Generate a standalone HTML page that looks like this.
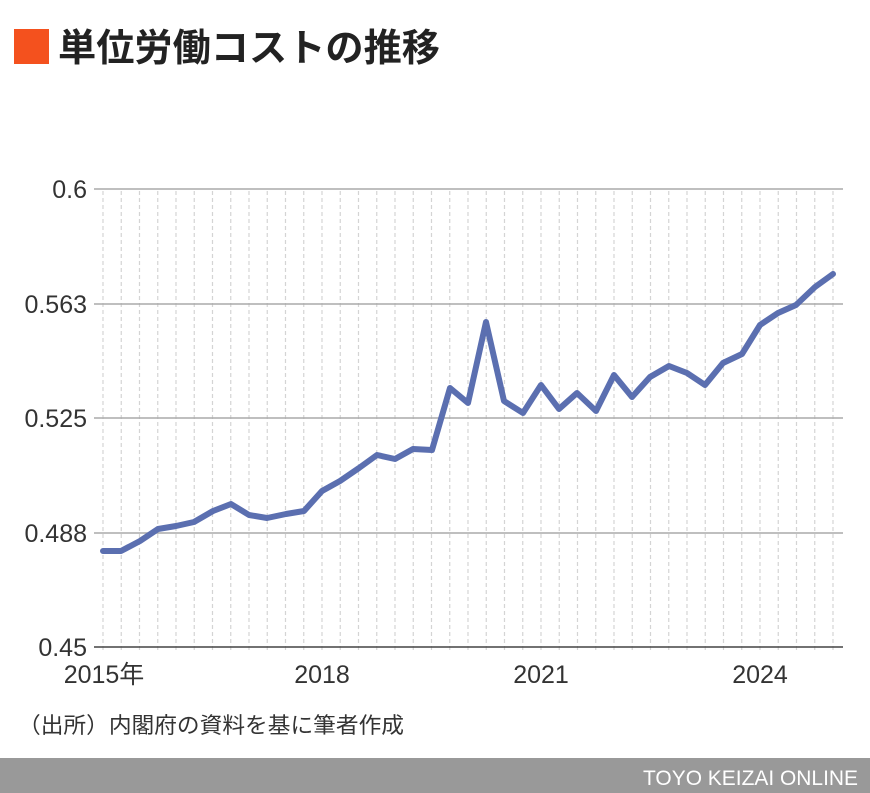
<!DOCTYPE html>
<html><head><meta charset="utf-8"><style>
body{margin:0;width:870px;height:793px;background:#fff;overflow:hidden;font-family:"Liberation Sans","Noto Sans CJK JP",sans-serif}
</style></head><body>
<svg width="870" height="793" xmlns="http://www.w3.org/2000/svg" style="position:absolute;left:0;top:0">
<rect x="14" y="29" width="35" height="35" fill="#f4511e"/>
<text x="58" y="61" font-size="38" font-weight="bold" fill="#222" font-family="'Noto Sans CJK JP',sans-serif" textLength="382" lengthAdjust="spacingAndGlyphs">単位労働コストの推移</text>
<g id="v" stroke="#d4d4d4" stroke-dasharray="4,3" stroke-width="1.2"></g>
<g stroke="#aaa" stroke-width="1.5">
<line x1="94" x2="843" y1="189" y2="189"/>
<line x1="94" x2="843" y1="304" y2="304"/>
<line x1="94" x2="843" y1="418" y2="418"/>
<line x1="94" x2="843" y1="533" y2="533"/>
</g>
<line x1="94" x2="843" y1="647" y2="647" stroke="#444" stroke-width="1.5"/>
<g font-size="25" fill="#333" text-anchor="end">
<text x="87" y="198">0.6</text>
<text x="87" y="313">0.563</text>
<text x="87" y="427">0.525</text>
<text x="87" y="542">0.488</text>
<text x="87" y="656">0.45</text>
</g>
<g font-size="25" fill="#333" text-anchor="middle">
<text x="104" y="683">2015年</text>
<text x="322" y="683">2018</text>
<text x="541" y="683">2021</text>
<text x="760" y="683">2024</text>
</g>
<polyline fill="none" stroke="#5b6fb0" stroke-width="6" stroke-linejoin="round" stroke-linecap="round" points="103,551 121,551 140,541 158,529 176,526 194,522 213,511 231,504 249,515 267,518 286,514 304,511 322,491 340,481 359,468 377,455 395,459 413,449 432,450 450,388 468,403 486,322 504,401 523,413 541,385 559,409 577,393 596,411 614,375 632,397 650,377 669,366 687,373 705,385 723,363 742,354 760,325 778,313 796,305 815,287 833,274"/>
<text x="18" y="733" font-size="22" fill="#333" textLength="386" lengthAdjust="spacingAndGlyphs">（出所）内閣府の資料を基に筆者作成</text>
<rect x="0" y="758" width="870" height="35" fill="#999"/>
<text x="858" y="785" font-size="21" fill="#fff" text-anchor="end" textLength="215" lengthAdjust="spacingAndGlyphs">TOYO KEIZAI ONLINE</text>
</svg>
<script>
var g=document.getElementById('v'),s='';
for(var i=0;i<41;i++){var x=103+i*18.25;s+='<line x1="'+x+'" x2="'+x+'" y1="191" y2="652"/>';}
g.innerHTML=s;
</script>
</body></html>
